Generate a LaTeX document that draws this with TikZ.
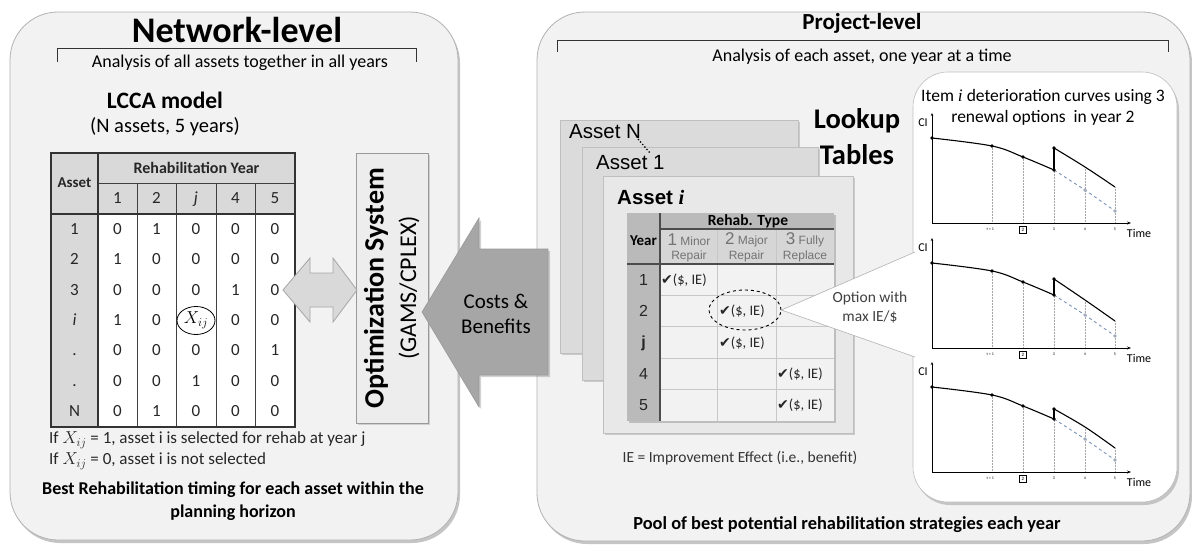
\documentclass[tikz,border=0pt]{standalone}
\usepackage{fontspec}
\setmainfont{Carlito}
\newfontfamily\arialf{Liberation Sans}
\newfontfamily\seriff{Liberation Serif}
\newfontfamily\dejavu{DejaVu Sans}
\usetikzlibrary{shadows,arrows.meta,calc,shapes.geometric}
\newcommand\fsz[1]{\fontsize{#1pt}{#1pt}\selectfont}
\newcommand\chk{{\dejavu\fsz{14}✔}}
\definecolor{panelbg}{HTML}{F2F2F2}
\definecolor{curveblue}{HTML}{7A93B8}

\tikzset{
  panel/.style={rounded corners=48pt, fill=panelbg, draw=black!30, line width=0.8pt,
    drop shadow={shadow xshift=2pt, shadow yshift=-3pt, opacity=0.45}},
  card/.style={fill=black!14, draw=black!25, line width=0.6pt,
    drop shadow={shadow xshift=2pt, shadow yshift=-2pt, opacity=0.35}},
  tnum/.style={font=\fsz{17}, text=black!85, text height=11pt, text depth=1pt},
  chkcell/.style={anchor=west, font=\fsz{14.5}, text=black!85},
  colhead/.style={font=\arialf\fsz{12}, text=black!55},
  rowhead/.style={font=\arialf\fsz{16}, text=black!85},
  dotline/.style={black!35, densely dotted, line width=0.5pt},
}

% one deterioration chart: #1 vertical offset, #2 value after renewal,
% #3 value at t=4, #4 value at t=5, #5 name suffix
\newcommand\curvechart[5]{%
\begin{scope}[shift={(0,#1)}]
  \draw[dotline] (992,146) -- (992,223) (1023,157) -- (1023,223)
                 (1054,#2) -- (1054,223) (1085,#3) -- (1085,223) (1115,#4) -- (1115,223);
  \draw[line width=0.7pt, -{Stealth[length=3pt,width=2.5pt]}] (932,223) -- (932,113);
  \draw[line width=0.7pt, -{Stealth[length=4pt,width=3pt]}] (932,223) -- (1131,223);
  \draw[line width=1.1pt] plot[smooth, tension=0.6] coordinates {(932,138) (992,146) (1023,157) (1054,170)};
  \draw[line width=1.1pt] (1054,170) -- (1054,#2);
  \draw[line width=1.1pt] plot[smooth, tension=0.6] coordinates {(1054,#2) (1085,#3) (1115,#4)};
  \draw[curveblue, dashed, line width=0.9pt] (1054,170) -- (1085,190) -- (1115,211);
  \foreach \p in {(932,138),(992,146),(1023,157),(1054,170),(1054,#2)} \fill \p circle (1.8);
  \fill[curveblue!80!black!60] (1085,190) circle (1.8) (1115,211) circle (1.8);
  \node[font=\fsz{12}] (ci#5) at (923,123) {CI};
  \node[font=\fsz{12}] (time#5) at (1139,233) {Time};
  \node[font=\fsz{4}, anchor=east] (t1#5) at (994,229) {t = 1};
  \node[draw, font=\fsz{5}, minimum size=7pt, inner sep=0.5pt, line width=0.4pt] (t2#5) at (1023,230) {2};
  \node[font=\fsz{4}] (t3#5) at (1054,229) {3};
  \node[font=\fsz{4}] (t4#5) at (1085,229) {4};
  \node[font=\fsz{4}] (t5#5) at (1115,229) {5};
\end{scope}}

\begin{document}
\begin{tikzpicture}[x=1pt, y=-1pt, every node/.style={inner sep=0pt}]
\useasboundingbox (0,0) rectangle (1192,544);
\fill[white] (0,0) rectangle (1192,544);

% ---------------- network level panel ----------------
\path[panel] (10,12) rectangle (458,540);
\node[font=\bfseries\fsz{36}] (netT) at (237,30) {Network-level};
\draw[line width=0.9pt, black!80] (57,62) -- (57,48) -- (416,48) -- (416,62);
\node[font=\fsz{18}] (netS) at (240,63) {Analysis of all assets together in all years};
\node[font=\bfseries\fsz{23.5}] (lcca) at (165,100) {LCCA model};
\node[font=\fsz{20.5}] (lccaS) at (165,127) {(N assets, 5 years)};

% decision matrix
\fill[black!15] (51,153) rectangle (98,427);
\fill[black!15] (98,153) rectangle (295,214);
\fill[white] (98,214) rectangle (295,427);
\draw[black!75, line width=0.6pt] (98,183) -- (295,183);
\foreach \x in {137,176,216,255} \draw[black!75, line width=0.6pt] (\x,183) -- (\x,427);
\draw[black!80, line width=1.2pt] (51,214) -- (295,214) (98,153) -- (98,427);
\draw[black!80, line width=1.4pt] (51,153) rectangle (295,427);
\node[font=\bfseries\fsz{15}, text=black!85] (hAsset) at (74.5,183) {Asset};
\node[font=\bfseries\fsz{16}, text=black!85] (hYear) at (196.5,168) {Rehabilitation Year};
\foreach \x/\t [count=\j] in {117.5/1, 156.5/2, 196/\textit{j}, 235.5/4, 275/5}
  \node[tnum] (hy\j) at (\x,198.5) {\t};
\foreach \lab/\a/\b/\c/\d/\e [count=\k from 0] in
  {1/0/1/0/0/0, 2/1/0/0/0/0, 3/0/0/0/1/0, \textit{i}/1/0/{}/0/0, ./0/0/0/0/1, ./0/0/1/0/0, N/0/1/0/0/0}{
  \pgfmathsetmacro\yy{229.2+30.43*\k}
  \node[tnum] (rl\k) at (74.5,\yy) {\lab};
  \node[tnum] (c\k-1) at (117.5,\yy) {\a};
  \node[tnum] (c\k-2) at (156.5,\yy) {\b};
  \node[tnum] (c\k-3) at (196,\yy) {\c};
  \node[tnum] (c\k-4) at (235.5,\yy) {\d};
  \node[tnum] (c\k-5) at (275,\yy) {\e};
}
\node[draw, ellipse, line width=0.8pt, minimum width=38pt, minimum height=28pt, font=\fsz{18}] (xij) at (196,320.5) {$X_{ij}$};

\node[anchor=west, font=\fsz{17}, text=black!85] (if1) at (49,440) {If $X_{ij}$ = 1, asset i is selected for rehab at year j};
\node[anchor=west, font=\fsz{17}, text=black!85] (if2) at (49,461) {If $X_{ij}$ = 0, asset i is not selected};
\node[font=\bfseries\fsz{18}] (best1) at (233,490) {Best Rehabilitation timing for each asset within the};
\node[font=\bfseries\fsz{18}] (best2) at (233,513) {planning horizon};

% optimisation system
\node[draw=black!40, fill=black!7, minimum width=72pt, minimum height=270pt, line width=0.8pt,
  drop shadow={shadow xshift=1.5pt, shadow yshift=-1.5pt, opacity=0.3}] (opt) at (392,288) {};
\node[rotate=90, font=\bfseries\fsz{28}] (optA) at (376,288) {Optimization System};
\node[rotate=90, font=\fsz{24}] (optB) at (409,288) {(GAMS/CPLEX)};
\draw[fill=black!15, draw=black!35, line width=0.8pt]
  (283,290) -- (310,258) -- (310,273) -- (333,273) -- (333,258) -- (357,290)
  -- (333,322) -- (333,307) -- (310,307) -- (310,322) -- cycle;

% ---------------- project level panel ----------------
\path[panel] (537,12) rectangle (1190,541);
\node[font=\bfseries\fsz{23}] (prjT) at (862,23) {Project-level};
\draw[line width=0.9pt, black!80] (557,52) -- (557,40) -- (1168,40) -- (1168,52);
\node[font=\fsz{18}] (prjS) at (862,57) {Analysis of each asset, one year at a time};

% stacked lookup tables
\path[card] (560,120) rectangle (798,353);
\path[card] (582,147) rectangle (818,380);
\path[card, fill=black!9] (603,176) rectangle (853,433);
\node[anchor=west, font=\arialf\fsz{20.5}] (aN) at (569,132) {Asset N};
\node[anchor=west, font=\arialf\fsz{20.5}] (a1) at (596,163) {Asset 1};
\node[anchor=west, font=\arialf\bfseries\fsz{20.5}] (ai) at (617,197) {Asset {\seriff\bfseries\itshape i}};
\coordinate (dotA) at (638,139);
\coordinate (dotB) at (650,153);
\draw[dotted, line width=1.3pt] (dotA) -- (dotB);
\node[font=\bfseries\fsz{28.5}] (look1) at (857,121) {Lookup};
\node[font=\bfseries\fsz{28.5}] (look2) at (857,155) {Tables};

% lookup table of asset i
\path[fill=black!5, drop shadow={shadow xshift=2pt, shadow yshift=-2pt, opacity=0.4}] (627,213) rectangle (834,421);
\fill[black!27] (627,213) rectangle (660,421);
\fill[black!27] (660,213) rectangle (834,229);
\fill[black!16] (660,229) rectangle (834,264);
\foreach \x in {717,776} \draw[black!22, line width=0.8pt] (\x,229) -- (\x,421);
\foreach \k in {1,...,4}{
  \pgfmathsetmacro\yy{264+31.4*\k}
  \draw[black!22, line width=0.8pt] (660,\yy) -- (834,\yy);
}
\draw[black!70, line width=1.2pt] (660,229) -- (834,229);
\draw[black!70, line width=1.6pt] (627,264) -- (834,264) (660,213) -- (660,421);
\node[font=\bfseries\fsz{15.5}] (rtype) at (748,221) {Rehab. Type};
\node[font=\bfseries\fsz{15}] (yhead) at (643.5,241) {Year};
\node[colhead] (o1) at (689,240) {{\fsz{17}1} Minor};
\node[colhead] (o1b) at (689,256) {Repair};
\node[colhead] (o2) at (746.5,240) {{\fsz{17}2} Major};
\node[colhead] (o2b) at (746.5,256) {Repair};
\node[colhead] (o3) at (805,240) {{\fsz{17}3} Fully};
\node[colhead] (o3b) at (805,256) {Replace};
\node[rowhead] (y1) at (643.5,280) {1};
\node[rowhead] (y2) at (643.5,311) {2};
\node[rowhead, font=\arialf\bfseries\fsz{16}] (yj) at (643.5,343) {j};
\node[rowhead] (y4) at (643.5,374) {4};
\node[rowhead] (y5) at (643.5,405) {5};
\node[chkcell] (k1) at (661,280) {\chk(\$, IE)};
\node[chkcell] (k2) at (719,311) {\chk(\$, IE)};
\node[chkcell] (k3) at (719,343) {\chk(\$, IE)};
\node[chkcell] (k4) at (777,374) {\chk(\$, IE)};
\node[chkcell] (k5) at (777,405) {\chk(\$, IE)};
\node[draw, dashed, ellipse, line width=0.9pt, minimum width=72pt, minimum height=40pt] (sel) at (745,310) {};
\node[font=\fsz{15.5}, text=black!80] (ie) at (740,458) {IE = Improvement Effect (i.e., benefit)};

% deterioration curves
\path[fill=white, draw=black!25, line width=0.6pt, rounded corners=35pt,
  drop shadow={shadow xshift=2pt, shadow yshift=-3pt, opacity=0.4}] (913,72) rectangle (1177,502);
\coordinate (calT) at (915,252);
\coordinate (calB) at (915,357);
\fill[white] (sel.east) -- (calT) -- (calB) -- cycle;
\draw[black!30, line width=0.6pt] (calT) -- (sel.east) -- (calB);
\node[font=\fsz{15.5}, text=black!75] (opt1) at (870,298) {Option with};
\node[font=\fsz{15.5}, text=black!75] (opt2) at (870,317) {max IE/\$};
\node[font=\fsz{17.5}] (ct1) at (1043,97) {Item {\seriff\itshape i} deterioration curves using 3};
\node[font=\fsz{17.5}] (ct2) at (1043,118) {renewal options\ \ in year 2};
\curvechart{0}{148}{167}{187}{A}
\curvechart{125}{154}{175}{196}{B}
\curvechart{249}{160}{178}{199}{C}

\node[font=\bfseries\fsz{18.4}] (pool) at (847,525) {Pool of best potential rehabilitation strategies each year};

% costs & benefits flow into the optimisation
\draw[fill=black!35, draw=black!40, line width=0.6pt,
  drop shadow={shadow xshift=2pt, shadow yshift=-2pt, opacity=0.35}]
  (422,312) -- (479,218) -- (479,249) -- (548,249) -- (548,375) -- (479,375) -- (479,407) -- cycle;
\node[font=\fsz{21}] (cb1) at (496,301) {Costs \&};
\node[font=\fsz{21}] (cb2) at (496,326) {Benefits};
\end{tikzpicture}
\end{document}
